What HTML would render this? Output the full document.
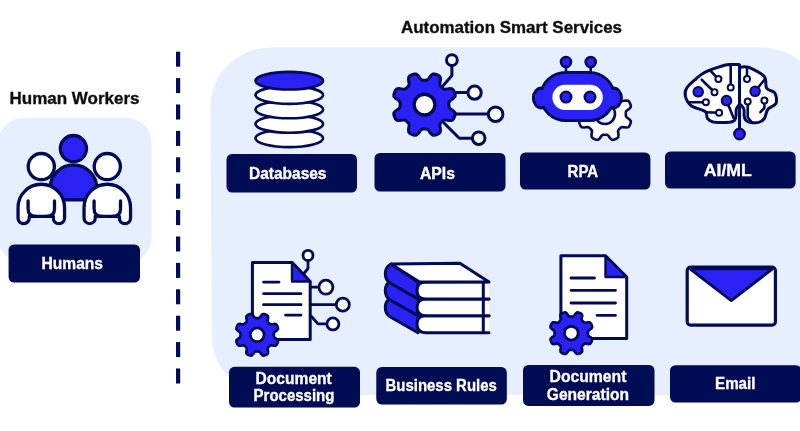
<!DOCTYPE html>
<html><head><meta charset="utf-8"><title>Automation Smart Services</title>
<style>
html,body{margin:0;padding:0;background:#fff;}
body{width:800px;height:431px;overflow:hidden;font-family:"Liberation Sans",sans-serif;}
svg{display:block;}
svg text{font-family:"Liberation Sans",sans-serif;}
</style></head>
<body>
<svg width="800" height="431" viewBox="0 0 800 431">
<defs><filter id="soft" x="-20" y="-20" width="880" height="480" filterUnits="userSpaceOnUse"><feGaussianBlur stdDeviation="0.55"/></filter></defs>
<g filter="url(#soft)">
<rect x="-2" y="118" width="153.6" height="144.5" rx="25" fill="#e6efff"/>
<path d="M270.5 47.5 H762 A60 60 0 0 1 822 107.5 V395 H271 A59 59 0 0 1 212 336 L210.3 107.5 A60 60 0 0 1 270.5 47.5Z" fill="#e6efff"/>
<rect x="176" y="51.7" width="4.2" height="15" fill="#040755"/>
<rect x="176" y="78.1" width="4.2" height="15" fill="#040755"/>
<rect x="176" y="104.5" width="4.2" height="15" fill="#040755"/>
<rect x="176" y="130.9" width="4.2" height="15" fill="#040755"/>
<rect x="176" y="157.3" width="4.2" height="15" fill="#040755"/>
<rect x="176" y="183.7" width="4.2" height="15" fill="#040755"/>
<rect x="176" y="210.1" width="4.2" height="15" fill="#040755"/>
<rect x="176" y="236.5" width="4.2" height="15" fill="#040755"/>
<rect x="176" y="262.9" width="4.2" height="15" fill="#040755"/>
<rect x="176" y="289.3" width="4.2" height="15" fill="#040755"/>
<rect x="176" y="315.7" width="4.2" height="15" fill="#040755"/>
<rect x="176" y="342.1" width="4.2" height="15" fill="#040755"/>
<rect x="176" y="368.5" width="4.2" height="15" fill="#040755"/>
<text x="9.5" y="104.3" font-size="16.4" font-weight="bold" fill="#111" stroke="#111" stroke-width="0.35" textLength="130.0" lengthAdjust="spacingAndGlyphs">Human Workers</text>
<text x="401" y="32.6" font-size="16.4" font-weight="bold" fill="#111" stroke="#111" stroke-width="0.35" textLength="221.0" lengthAdjust="spacingAndGlyphs">Automation Smart Services</text>
<path d="M50.2 199.8 L50.2 188.2 A23.25 23.25 0 0 1 96.7 188.2 L96.7 199.8 Z" fill="#2a22f5" stroke="#040755" stroke-width="3.3" stroke-linejoin="round"/>
<circle cx="73.4" cy="148.6" r="13.1" fill="#2a22f5" stroke="#040755" stroke-width="3.3"/>
<path d="M18.049999999999997 218 L18.049999999999997 207.5 A23.25 23.25 0 0 1 64.55 207.5 L64.55 218 A5.6 5.6 0 0 1 53.349999999999994 218 L53.349999999999994 216.4 L29.249999999999996 216.4 L29.249999999999996 218 A5.6 5.6 0 0 1 18.049999999999997 218Z" fill="#fff" stroke="#040755" stroke-width="3.3" stroke-linejoin="round"/><path d="M28.099999999999998 201 L28.099999999999998 209 Q28.099999999999998 216.4 36.3 216.4 M54.5 201 L54.5 209 Q54.5 216.4 46.3 216.4" fill="none" stroke="#040755" stroke-width="3.3" stroke-linecap="round"/><circle cx="41.3" cy="166.6" r="13.1" fill="#fff" stroke="#040755" stroke-width="3.3"/>
<path d="M84.05 218 L84.05 207.5 A23.25 23.25 0 0 1 130.55 207.5 L130.55 218 A5.6 5.6 0 0 1 119.35000000000001 218 L119.35000000000001 216.4 L95.25 216.4 L95.25 218 A5.6 5.6 0 0 1 84.05 218Z" fill="#fff" stroke="#040755" stroke-width="3.3" stroke-linejoin="round"/><path d="M94.1 201 L94.1 209 Q94.1 216.4 102.3 216.4 M120.5 201 L120.5 209 Q120.5 216.4 112.3 216.4" fill="none" stroke="#040755" stroke-width="3.3" stroke-linecap="round"/><circle cx="107.3" cy="166.6" r="13.1" fill="#fff" stroke="#040755" stroke-width="3.3"/>
<rect x="8.6" y="244.5" width="131.4" height="38.1" rx="5.5" fill="#040755"/>
<text x="41.6" y="269.1" font-size="16" font-weight="bold" fill="#fff" stroke="#fff" stroke-width="0.35" textLength="61.4" lengthAdjust="spacingAndGlyphs">Humans</text>
<ellipse cx="289.3" cy="138.30" rx="33.8" ry="8.8" fill="#fff" stroke="#040755" stroke-width="2.6"/>
<ellipse cx="289.3" cy="123.90" rx="33.8" ry="8.8" fill="#fff" stroke="#040755" stroke-width="2.6"/>
<ellipse cx="289.3" cy="109.50" rx="33.8" ry="8.8" fill="#fff" stroke="#040755" stroke-width="2.6"/>
<ellipse cx="289.3" cy="95.10" rx="33.8" ry="8.8" fill="#fff" stroke="#040755" stroke-width="2.6"/>
<ellipse cx="289.3" cy="80.70" rx="33.8" ry="8.8" fill="#2a22f5" stroke="#040755" stroke-width="2.6"/>
<rect x="226.5" y="154" width="130.5" height="38.5" rx="5.5" fill="#040755"/>
<text x="249" y="179.2" font-size="16.4" font-weight="bold" fill="#fff" stroke="#fff" stroke-width="0.35" textLength="77.5" lengthAdjust="spacingAndGlyphs">Databases</text>
<g fill="none" stroke="#040755" stroke-width="3" stroke-linecap="round" stroke-linejoin="round"><path d="M451.9 66 L451.9 75.5 L442 87"/><path d="M452 92.6 L468 92.6"/><path d="M452 113.9 L488 113.9"/><path d="M444 123 L459.3 138.2 L472 138.2"/></g>
<g fill="#fff" stroke="#040755" stroke-width="3"><circle cx="451.9" cy="60.1" r="5.4"/><circle cx="474.6" cy="92.7" r="6.6"/><circle cx="495.6" cy="114.2" r="7.3"/><circle cx="478.7" cy="138.2" r="6.3"/></g>
<path d="M424.5 80.2L425.8 80.2L427.1 80.0L428.6 78.9L430.6 75.9L432.7 74.0L434.5 73.9L436.1 74.4L437.7 75.0L439.2 75.8L440.3 77.2L440.5 80.0L439.8 83.6L440.1 85.4L440.9 86.4L441.8 87.3L442.7 88.2L443.7 89.0L445.5 89.3L449.1 88.6L451.9 88.8L453.3 89.9L454.1 91.4L454.7 93.0L455.2 94.6L455.1 96.4L453.2 98.5L450.2 100.5L449.1 102.0L448.9 103.3L448.9 104.6L448.9 105.9L449.1 107.2L450.2 108.7L453.2 110.7L455.1 112.8L455.2 114.6L454.7 116.2L454.1 117.8L453.3 119.3L451.9 120.4L449.1 120.6L445.5 119.9L443.7 120.2L442.7 121.0L441.8 121.9L440.9 122.8L440.1 123.8L439.8 125.6L440.5 129.2L440.3 132.0L439.2 133.4L437.7 134.2L436.1 134.8L434.5 135.3L432.7 135.2L430.6 133.3L428.6 130.3L427.1 129.2L425.8 129.0L424.5 129.0L423.2 129.0L421.9 129.2L420.4 130.3L418.4 133.3L416.3 135.2L414.5 135.3L412.9 134.8L411.3 134.2L409.8 133.4L408.7 132.0L408.5 129.2L409.2 125.6L408.9 123.8L408.1 122.8L407.2 121.9L406.3 121.0L405.3 120.2L403.5 119.9L399.9 120.6L397.1 120.4L395.7 119.3L394.9 117.8L394.3 116.2L393.8 114.6L393.9 112.8L395.8 110.7L398.8 108.7L399.9 107.2L400.1 105.9L400.1 104.6L400.1 103.3L399.9 102.0L398.8 100.5L395.8 98.5L393.9 96.4L393.8 94.6L394.3 93.0L394.9 91.4L395.7 89.9L397.1 88.8L399.9 88.6L403.5 89.3L405.3 89.0L406.3 88.2L407.2 87.3L408.1 86.4L408.9 85.4L409.2 83.6L408.5 80.0L408.7 77.2L409.8 75.8L411.3 75.0L412.9 74.4L414.5 73.9L416.3 74.0L418.4 75.9L420.4 78.9L421.9 80.0L423.2 80.2Z" fill="#2a22f5" stroke="#040755" stroke-width="3" stroke-linejoin="round"/>
<circle cx="424.5" cy="104.6" r="10.4" fill="#fff" stroke="#040755" stroke-width="3.4"/>
<rect x="374.5" y="153" width="131.0" height="38.5" rx="5.5" fill="#040755"/>
<text x="420" y="178.5" font-size="16.4" font-weight="bold" fill="#fff" stroke="#fff" stroke-width="0.35" textLength="35.0" lengthAdjust="spacingAndGlyphs">APIs</text>
<path d="M605.0 93.2L606.1 93.2L607.2 93.1L608.5 92.2L610.1 89.8L611.9 88.3L613.4 88.2L614.7 88.6L616.1 89.2L617.3 89.9L618.3 90.9L618.5 93.3L618.0 96.2L618.2 97.6L618.9 98.5L619.7 99.3L620.5 100.1L621.4 100.8L622.8 101.0L625.7 100.5L628.1 100.7L629.1 101.7L629.8 102.9L630.4 104.3L630.8 105.6L630.7 107.1L629.2 108.9L626.8 110.5L625.9 111.8L625.8 112.9L625.8 114.0L625.8 115.1L625.9 116.2L626.8 117.5L629.2 119.1L630.7 120.9L630.8 122.4L630.4 123.7L629.8 125.1L629.1 126.3L628.1 127.3L625.7 127.5L622.8 127.0L621.4 127.2L620.5 127.9L619.7 128.7L618.9 129.5L618.2 130.4L618.0 131.8L618.5 134.7L618.3 137.1L617.3 138.1L616.1 138.8L614.7 139.4L613.4 139.8L611.9 139.7L610.1 138.2L608.5 135.8L607.2 134.9L606.1 134.8L605.0 134.8L603.9 134.8L602.8 134.9L601.5 135.8L599.9 138.2L598.1 139.7L596.6 139.8L595.3 139.4L593.9 138.8L592.7 138.1L591.7 137.1L591.5 134.7L592.0 131.8L591.8 130.4L591.1 129.5L590.3 128.7L589.5 127.9L588.6 127.2L587.2 127.0L584.3 127.5L581.9 127.3L580.9 126.3L580.2 125.1L579.6 123.7L579.2 122.4L579.3 120.9L580.8 119.1L583.2 117.5L584.1 116.2L584.2 115.1L584.2 114.0L584.2 112.9L584.1 111.8L583.2 110.5L580.8 108.9L579.3 107.1L579.2 105.6L579.6 104.3L580.2 102.9L580.9 101.7L581.9 100.7L584.3 100.5L587.2 101.0L588.6 100.8L589.5 100.1L590.3 99.3L591.1 98.5L591.8 97.6L592.0 96.2L591.5 93.3L591.7 90.9L592.7 89.9L593.9 89.2L595.3 88.6L596.6 88.2L598.1 88.3L599.9 89.8L601.5 92.2L602.8 93.1L603.9 93.2Z" fill="#fff" stroke="#040755" stroke-width="2.6" stroke-linejoin="round"/>
<circle cx="605" cy="114" r="10" fill="#e6efff" stroke="#040755" stroke-width="2.6"/>
<g stroke="#040755" stroke-width="2.6"><path d="M566 66 L566 75 M590.7 66 L590.7 75" fill="none"/><circle cx="566" cy="62" r="5" fill="#2a22f5"/><circle cx="590.7" cy="62" r="5" fill="#2a22f5"/></g>
<g fill="#2a22f5" stroke="#040755" stroke-width="2.8"><ellipse cx="541.5" cy="98" rx="8.2" ry="10"/><ellipse cx="613.3" cy="98" rx="8.2" ry="10"/><rect x="541.2" y="72.3" width="72.6" height="48.3" rx="25" ry="23"/></g>
<g fill="#2a22f5"><ellipse cx="543" cy="98" rx="7" ry="8.4"/><ellipse cx="612" cy="98" rx="7" ry="8.4"/></g>
<rect x="552.4" y="84.8" width="50.4" height="25.1" rx="12.5" fill="#fff"/>
<g fill="#2a22f5" stroke="#040755" stroke-width="2.4"><circle cx="566" cy="97.1" r="5.3"/><circle cx="590" cy="97.1" r="5.3"/></g>
<rect x="520" y="152.5" width="130.4" height="37.1" rx="5.5" fill="#040755"/>
<text x="567.5" y="177.4" font-size="16.4" font-weight="bold" fill="#fff" stroke="#fff" stroke-width="0.35" textLength="30.7" lengthAdjust="spacingAndGlyphs">RPA</text>
<g fill="#fff" stroke="none"><path d="M739.1 64.4C737.5 64.4 732.5 64.3 729.5 64.6C726.6 64.9 725.5 65.0 721.4 66.2C717.4 67.5 709.4 69.9 705.2 72.1C700.9 74.2 699.0 76.3 695.9 79.0C692.8 81.7 688.3 85.4 686.6 88.3C684.9 91.2 684.7 93.5 685.4 96.4C686.2 99.3 688.0 103.2 691.2 105.7C694.5 108.2 702.5 109.4 705.2 111.5C707.9 113.6 706.1 116.7 707.5 118.5C708.9 120.2 709.6 121.3 713.3 122.0C717.0 122.6 726.0 122.5 729.5 122.2C733.1 121.9 733.6 121.1 734.7 120.1C735.7 119.1 735.8 117.7 736.0 115.9C736.3 114.1 735.8 111.0 736.3 109.2C736.8 107.3 738.6 105.5 739.1 104.8L739.5 64.4Z"/><path d="M740.5 67.2C741.3 67.1 743.9 66.7 745.8 66.9C747.7 67.2 748.5 66.9 751.6 68.6C754.7 70.2 761.9 73.4 764.4 76.7C766.9 80.0 764.9 85.6 766.7 88.3C768.4 91.0 773.3 90.4 774.8 92.9C776.4 95.5 777.1 100.7 776.0 103.4C774.8 106.1 769.8 106.7 767.9 109.2C765.9 111.7 765.9 116.3 764.4 118.5C762.8 120.7 761.0 121.8 758.6 122.4C756.1 123.0 751.9 122.6 749.7 122.2C747.6 121.8 746.5 120.9 745.6 119.9C744.6 118.8 744.4 117.7 744.2 115.9C743.9 114.1 744.5 111.0 743.9 109.2C743.4 107.3 741.4 105.5 740.9 104.8L739.5 67.2Z"/></g>
<g fill="none" stroke="#040755" stroke-width="3" stroke-linejoin="round" stroke-linecap="round"><path d="M739.1 64.4C737.5 64.4 732.5 64.3 729.5 64.6C726.6 64.9 725.5 65.0 721.4 66.2C717.4 67.5 709.4 69.9 705.2 72.1C700.9 74.2 699.0 76.3 695.9 79.0C692.8 81.7 688.3 85.4 686.6 88.3C684.9 91.2 684.7 93.5 685.4 96.4C686.2 99.3 688.0 103.2 691.2 105.7C694.5 108.2 702.5 109.4 705.2 111.5C707.9 113.6 706.1 116.7 707.5 118.5C708.9 120.2 709.6 121.3 713.3 122.0C717.0 122.6 726.0 122.5 729.5 122.2C733.1 121.9 733.6 121.1 734.7 120.1C735.7 119.1 735.8 117.7 736.0 115.9C736.3 114.1 735.8 111.0 736.3 109.2C736.8 107.3 738.6 105.5 739.1 104.8"/><path d="M740.5 67.2C741.3 67.1 743.9 66.7 745.8 66.9C747.7 67.2 748.5 66.9 751.6 68.6C754.7 70.2 761.9 73.4 764.4 76.7C766.9 80.0 764.9 85.6 766.7 88.3C768.4 91.0 773.3 90.4 774.8 92.9C776.4 95.5 777.1 100.7 776.0 103.4C774.8 106.1 769.8 106.7 767.9 109.2C765.9 111.7 765.9 116.3 764.4 118.5C762.8 120.7 761.0 121.8 758.6 122.4C756.1 123.0 751.9 122.6 749.7 122.2C747.6 121.8 746.5 120.9 745.6 119.9C744.6 118.8 744.4 117.7 744.2 115.9C743.9 114.1 744.5 111.0 743.9 109.2C743.4 107.3 741.4 105.5 740.9 104.8"/></g>
<path d="M739.5 64 L739.5 130" stroke="#040755" stroke-width="3" fill="none"/>
<circle cx="739.5" cy="134" r="5.2" fill="#2a22f5" stroke="#040755" stroke-width="2.4"/>
<g fill="none" stroke="#040755" stroke-width="2.6" stroke-linecap="round" stroke-linejoin="round"><path d="M718.4 79.0L711.0 71.4"/><path d="M730.7 87.6L730.7 66.2"/><path d="M714.5 92.2L701.7 79.7"/><path d="M705.9 102.2L689.4 102.2"/><path d="M726.5 100.6L730.7 110.8L733.5 117.8"/><path d="M719.1 112.7L706.3 112.2"/><path d="M747.0 79.0L747.0 69.0"/><path d="M755.1 91.3L764.4 79.7"/><path d="M747.7 101.5L747.7 117.3L751.6 122.0"/><path d="M764.4 100.6L764.4 108.0L760.4 112.2"/></g>
<g fill="#2a22f5" stroke="#040755" stroke-width="2"><circle cx="698.2" cy="91.8" r="4.8"/><circle cx="726.5" cy="100.6" r="4.8"/><circle cx="755.1" cy="91.3" r="4.8"/></g>
<g fill="#fff" stroke="#040755" stroke-width="2"><circle cx="718.4" cy="79.0" r="3"/><circle cx="730.7" cy="87.6" r="3"/><circle cx="714.5" cy="92.2" r="3"/><circle cx="705.9" cy="102.2" r="3"/><circle cx="719.1" cy="112.7" r="3"/><circle cx="747.0" cy="79.0" r="3"/><circle cx="747.7" cy="101.5" r="3"/><circle cx="764.4" cy="100.6" r="3"/></g>
<rect x="665" y="151.4" width="130.6" height="37.1" rx="5.5" fill="#040755"/>
<text x="703.8" y="175.9" font-size="16.4" font-weight="bold" fill="#fff" stroke="#fff" stroke-width="0.35" textLength="48.0" lengthAdjust="spacingAndGlyphs">AI/ML</text>
<g fill="none" stroke="#040755" stroke-width="2.8" stroke-linecap="round" stroke-linejoin="round"><path d="M308 260 L308 268.5 L301 277"/><path d="M311 287.2 L319 287.2"/><path d="M311 304.7 L336 304.7"/><path d="M311.5 316.5 L318 323.9 L327 323.9"/></g>
<g fill="#fff" stroke="#040755" stroke-width="2.8"><circle cx="308" cy="255.4" r="5"/><circle cx="325.9" cy="287.2" r="7"/><circle cx="342.8" cy="304.7" r="6.5"/><circle cx="332.9" cy="323.9" r="6"/></g>
<path d="M252.4 262.4 L292 262.4 L310.2 281.5 L310.2 339.4 L252.4 339.4 Z" fill="#fff" stroke="#040755" stroke-width="3" stroke-linejoin="round"/>
<path d="M292 262.4 L310.2 281.5 L292 281.5 Z" fill="#2a22f5" stroke="#040755" stroke-width="2.4" stroke-linejoin="round"/>
<g stroke="#040755" stroke-width="2.8" stroke-linecap="round"><path d="M263.5 282.1 L279 282.1 M263.5 293.7 L301 293.7 M263.5 304.7 L301 304.7 M285.5 315.1 L301 315.1"/></g>
<path d="M257.2 318.1L258.1 318.1L259.0 318.0L260.0 317.3L261.4 315.3L262.8 314.0L264.0 314.0L265.1 314.3L266.1 314.7L267.1 315.3L268.0 316.2L268.1 318.1L267.6 320.4L267.8 321.7L268.4 322.4L269.0 323.0L269.6 323.6L270.3 324.2L271.6 324.4L273.9 323.9L275.8 324.0L276.7 324.9L277.3 325.9L277.7 326.9L278.0 328.0L278.0 329.2L276.7 330.6L274.7 332.0L274.0 333.0L273.9 333.9L273.9 334.8L273.9 335.7L274.0 336.6L274.7 337.6L276.7 339.0L278.0 340.4L278.0 341.6L277.7 342.7L277.3 343.7L276.7 344.7L275.8 345.6L273.9 345.7L271.6 345.2L270.3 345.4L269.6 346.0L269.0 346.6L268.4 347.2L267.8 347.9L267.6 349.2L268.1 351.5L268.0 353.4L267.1 354.3L266.1 354.9L265.1 355.3L264.0 355.6L262.8 355.6L261.4 354.3L260.0 352.3L259.0 351.6L258.1 351.5L257.2 351.5L256.3 351.5L255.4 351.6L254.4 352.3L253.0 354.3L251.6 355.6L250.4 355.6L249.3 355.3L248.3 354.9L247.3 354.3L246.4 353.4L246.3 351.5L246.8 349.2L246.6 347.9L246.0 347.2L245.4 346.6L244.8 346.0L244.1 345.4L242.8 345.2L240.5 345.7L238.6 345.6L237.7 344.7L237.1 343.7L236.7 342.7L236.4 341.6L236.4 340.4L237.7 339.0L239.7 337.6L240.4 336.6L240.5 335.7L240.5 334.8L240.5 333.9L240.4 333.0L239.7 332.0L237.7 330.6L236.4 329.2L236.4 328.0L236.7 326.9L237.1 325.9L237.7 324.9L238.6 324.0L240.5 323.9L242.8 324.4L244.1 324.2L244.8 323.6L245.4 323.0L246.0 322.4L246.6 321.7L246.8 320.4L246.3 318.1L246.4 316.2L247.3 315.3L248.3 314.7L249.3 314.3L250.4 314.0L251.6 314.0L253.0 315.3L254.4 317.3L255.4 318.0L256.3 318.1Z" fill="#2a22f5" stroke="#040755" stroke-width="2.6" stroke-linejoin="round"/>
<circle cx="257.2" cy="334.8" r="6.9" fill="#fff" stroke="#040755" stroke-width="2.8"/>
<rect x="229" y="366.8" width="131.0" height="40.7" rx="5.5" fill="#040755"/>
<text x="255.6" y="383.6" font-size="16" font-weight="bold" fill="#fff" stroke="#fff" stroke-width="0.35" textLength="76.2" lengthAdjust="spacingAndGlyphs">Document</text>
<text x="253.6" y="401.4" font-size="16" font-weight="bold" fill="#fff" stroke="#fff" stroke-width="0.35" textLength="80.8" lengthAdjust="spacingAndGlyphs">Processing</text>
<path d="M391 297.8 Q385.3 300.8 385.3 307.3 Q385.3 313.8 390 316.8 L418 332.7 L418 315.8 Z" fill="#2a22f5" stroke="#040755" stroke-width="3" stroke-linejoin="round"/><path d="M489 315.8 L425.5 315.8 Q417 315.8 417 324.25 Q417 332.7 425.5 332.7 L489 332.7" fill="#fff" stroke="#040755" stroke-width="3" stroke-linejoin="round" stroke-linecap="round"/><path d="M483.3 315.8 L483.3 332.7" stroke="#040755" stroke-width="3"/>
<path d="M391 280.9 Q385.3 283.9 385.3 290.4 Q385.3 296.9 390 299.9 L418 315.79999999999995 L418 298.9 Z" fill="#2a22f5" stroke="#040755" stroke-width="3" stroke-linejoin="round"/><path d="M489 298.9 L425.5 298.9 Q417 298.9 417 307.34999999999997 Q417 315.79999999999995 425.5 315.79999999999995 L489 315.79999999999995" fill="#fff" stroke="#040755" stroke-width="3" stroke-linejoin="round" stroke-linecap="round"/><path d="M483.3 298.9 L483.3 315.79999999999995" stroke="#040755" stroke-width="3"/>
<path d="M391 264 Q385.3 267 385.3 273.5 Q385.3 280 390 283 L418 298.9 L418 282 Z" fill="#2a22f5" stroke="#040755" stroke-width="3" stroke-linejoin="round"/><path d="M489 282 L425.5 282 Q417 282 417 290.45 Q417 298.9 425.5 298.9 L489 298.9" fill="#fff" stroke="#040755" stroke-width="3" stroke-linejoin="round" stroke-linecap="round"/><path d="M483.3 282 L483.3 298.9" stroke="#040755" stroke-width="3"/>
<path d="M391 264 L459.9 263.2 L488.6 281.8 L419.5 282 Z" fill="#fff" stroke="#040755" stroke-width="3" stroke-linejoin="round"/>
<rect x="376.3" y="367" width="130.5" height="37.6" rx="5.5" fill="#040755"/>
<text x="385.5" y="391.1" font-size="16" font-weight="bold" fill="#fff" stroke="#fff" stroke-width="0.35" textLength="111.3" lengthAdjust="spacingAndGlyphs">Business Rules</text>
<path d="M560.9 255.8 L605.5 255.8 L626.7 277 L626.7 338.4 L560.9 338.4 Z" fill="#fff" stroke="#040755" stroke-width="3" stroke-linejoin="round"/>
<path d="M605.5 255.8 L626.7 277 L605.5 277 Z" fill="#2a22f5" stroke="#040755" stroke-width="2.4" stroke-linejoin="round"/>
<g stroke="#040755" stroke-width="2.8" stroke-linecap="round"><path d="M571 278 L594.5 278 M571 290.3 L615.5 290.3 M571 303 L615.5 303 M597 315.3 L615.5 315.3"/></g>
<path d="M571.3 316.5L572.2 316.5L573.1 316.4L574.1 315.7L575.5 313.7L576.9 312.4L578.1 312.4L579.2 312.7L580.2 313.1L581.2 313.7L582.1 314.6L582.2 316.5L581.7 318.8L581.9 320.1L582.5 320.8L583.1 321.4L583.7 322.0L584.4 322.6L585.7 322.8L588.0 322.3L589.9 322.4L590.8 323.3L591.4 324.3L591.8 325.3L592.1 326.4L592.1 327.6L590.8 329.0L588.8 330.4L588.1 331.4L588.0 332.3L588.0 333.2L588.0 334.1L588.1 335.0L588.8 336.0L590.8 337.4L592.1 338.8L592.1 340.0L591.8 341.1L591.4 342.1L590.8 343.1L589.9 344.0L588.0 344.1L585.7 343.6L584.4 343.8L583.7 344.4L583.1 345.0L582.5 345.6L581.9 346.3L581.7 347.6L582.2 349.9L582.1 351.8L581.2 352.7L580.2 353.3L579.2 353.7L578.1 354.0L576.9 354.0L575.5 352.7L574.1 350.7L573.1 350.0L572.2 349.9L571.3 349.9L570.4 349.9L569.5 350.0L568.5 350.7L567.1 352.7L565.7 354.0L564.5 354.0L563.4 353.7L562.4 353.3L561.4 352.7L560.5 351.8L560.4 349.9L560.9 347.6L560.7 346.3L560.1 345.6L559.5 345.0L558.9 344.4L558.2 343.8L556.9 343.6L554.6 344.1L552.7 344.0L551.8 343.1L551.2 342.1L550.8 341.1L550.5 340.0L550.5 338.8L551.8 337.4L553.8 336.0L554.5 335.0L554.6 334.1L554.6 333.2L554.6 332.3L554.5 331.4L553.8 330.4L551.8 329.0L550.5 327.6L550.5 326.4L550.8 325.3L551.2 324.3L551.8 323.3L552.7 322.4L554.6 322.3L556.9 322.8L558.2 322.6L558.9 322.0L559.5 321.4L560.1 320.8L560.7 320.1L560.9 318.8L560.4 316.5L560.5 314.6L561.4 313.7L562.4 313.1L563.4 312.7L564.5 312.4L565.7 312.4L567.1 313.7L568.5 315.7L569.5 316.4L570.4 316.5Z" fill="#2a22f5" stroke="#040755" stroke-width="2.6" stroke-linejoin="round"/>
<circle cx="571.3" cy="333.2" r="6.9" fill="#fff" stroke="#040755" stroke-width="2.8"/>
<rect x="523" y="364.9" width="131.5" height="41.0" rx="5.5" fill="#040755"/>
<text x="549.6" y="381.6" font-size="16" font-weight="bold" fill="#fff" stroke="#fff" stroke-width="0.35" textLength="76.8" lengthAdjust="spacingAndGlyphs">Document</text>
<text x="546.8" y="399.5" font-size="16" font-weight="bold" fill="#fff" stroke="#fff" stroke-width="0.35" textLength="82.2" lengthAdjust="spacingAndGlyphs">Generation</text>
<rect x="687.2" y="267" width="88.2" height="58.2" rx="3.5" fill="#fff" stroke="#040755" stroke-width="3.2"/>
<path d="M690 268.8 L772.6 268.8 L731.3 300.6 Z" fill="#2a22f5" stroke="#040755" stroke-width="2.8" stroke-linejoin="round"/>
<rect x="670" y="365.2" width="131.5" height="37.4" rx="5.5" fill="#040755"/>
<text x="715" y="389.1" font-size="16" font-weight="bold" fill="#fff" stroke="#fff" stroke-width="0.35" textLength="40.5" lengthAdjust="spacingAndGlyphs">Email</text>
</g>
</svg>
</body></html>
